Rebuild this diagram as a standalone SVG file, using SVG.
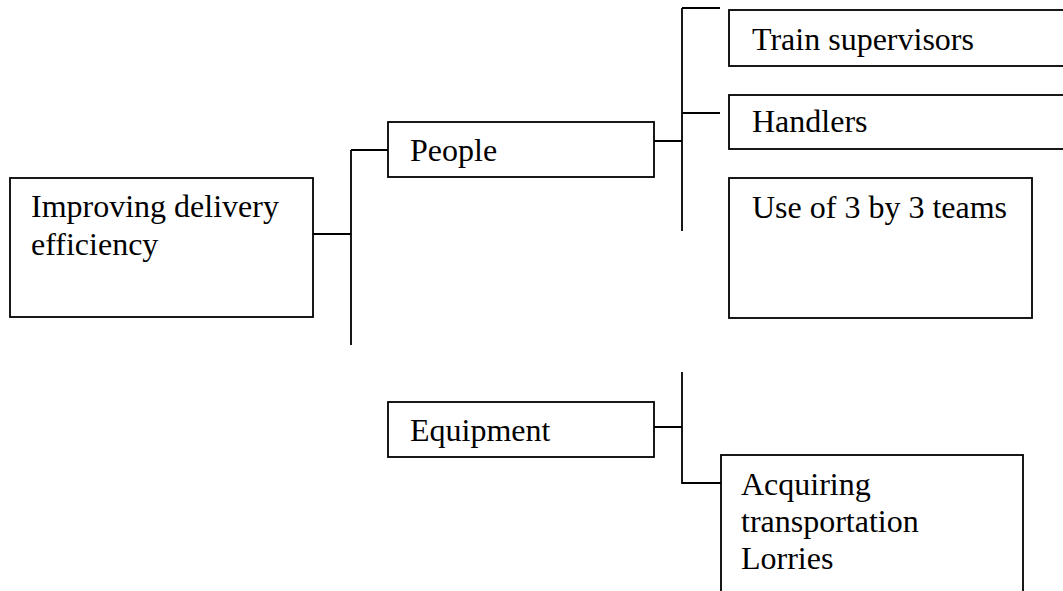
<svg xmlns="http://www.w3.org/2000/svg" width="1063" height="591" viewBox="0 0 1063 591">
  <style>
    .box { fill: #ffffff; stroke: #000000; stroke-width: 1.8; }
    .lbl { font-family: 'Liberation Serif', 'DejaVu Serif', serif; font-size: 32px; fill: #000000; }
    .wire { fill: none; stroke: #000000; stroke-width: 1.8; }
  </style>
  <rect x="0" y="0" width="1063" height="591" fill="#ffffff"/>

  <!-- tree connectors -->
  <g id="connectors">
    <path class="wire" d="M313 234 H351 M351 150 V345 M351 150 H388"/>
    <path class="wire" d="M643 141 H682 M682 8 V231 M682 8 H720 M682 113 H720"/>
    <path class="wire" d="M643 427 H682 M682 372 V483 H721"/>
  </g>

  <g id="root">
    <rect class="box" x="10" y="178" width="303" height="139"/>
    <text class="lbl" x="31" y="217">Improving delivery</text>
    <text class="lbl" x="31" y="255">efficiency</text>
  </g>

  <g id="people">
    <rect class="box" x="388" y="122" width="266" height="55"/>
    <text class="lbl" x="410" y="161">People</text>
  </g>

  <g id="train-supervisors">
    <rect class="box" x="729" y="10" width="345" height="56"/>
    <text class="lbl" x="752" y="50">Train supervisors</text>
  </g>

  <g id="handlers">
    <rect class="box" x="729" y="95" width="345" height="54"/>
    <text class="lbl" x="752" y="132">Handlers</text>
  </g>

  <g id="teams">
    <rect class="box" x="729" y="178" width="303" height="140"/>
    <text class="lbl" x="752" y="218">Use of 3 by 3 teams</text>
  </g>

  <g id="equipment">
    <rect class="box" x="388" y="402" width="266" height="55"/>
    <text class="lbl" x="410" y="441">Equipment</text>
  </g>

  <g id="lorries">
    <rect class="box" x="721" y="455" width="302" height="150"/>
    <text class="lbl" x="741" y="495">Acquiring</text>
    <text class="lbl" x="741" y="532">transportation</text>
    <text class="lbl" x="741" y="569">Lorries</text>
  </g>
</svg>
